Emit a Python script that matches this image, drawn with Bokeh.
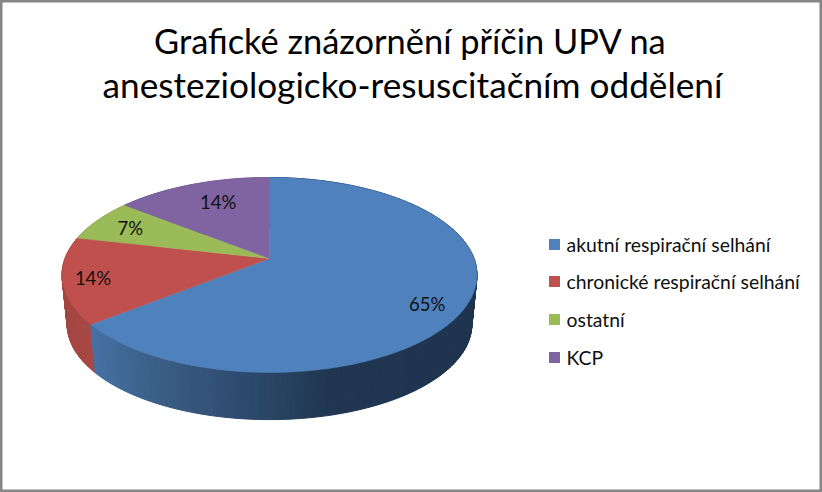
import numpy as np
from bokeh.plotting import figure
from bokeh.models import Range1d
from bokeh.core.properties import value
from bokeh.embed import file_html
from bokeh.resources import INLINE

# ---- data ----
categories = ["akutní respirační selhání", "chronické respirační selhání", "ostatní", "KCP"]
shares = [64.3, 14.3, 7.1, 14.3]
share_labels = ["65%", "14%", "7%", "14%"]
title_lines = ["Grafické znázornění příčin UPV na", "anesteziologicko-resuscitačním oddělení"]

# ---- style / layout ----
top_colors = ["#4F81BD", "#C0504D", "#9BBB59", "#8064A2"]
FONT = "Lato"
W, H = 822, 492
CX, CY_TOP, CY_BOT = 269.0, 258.0, 308.0   # projected centres of upper and lower disc
K = 0.169                                   # perspective
RX, RY = 204.5, 94.7
SHRINK = 0.975                              # lower disc is further from the viewer
LABEL_R = 0.8
LABEL_NUDGE = [(1, 11), (-12, 2), (0, 1), (12, 4)]
LEGEND_Y = [244, 281, 319, 357]


def project(theta, r=1.0, cy=CY_TOP, s=1.0):
    """Clockwise angle from the top of the pie, projected onto the page."""
    u, v = r * np.sin(theta), r * np.cos(theta)
    w = 1 + K * v
    return CX + s * RX * u / w, cy - s * RY * v / w


def mix(c1, c2, t):
    a = [int(c1[i:i + 2], 16) for i in (1, 3, 5)]
    b = [int(c2[i:i + 2], 16) for i in (1, 3, 5)]
    return "#%02x%02x%02x" % tuple(int(round(x + (y - x) * t)) for x, y in zip(a, b))


def side_color(i, x):
    if i == 0:
        stops = [(85, "#4673A6"), (150, "#3B6088"), (250, "#2C486B"), (330, "#203650"), (480, "#1F334F")]
    elif i == 1:
        stops = [(60, "#A34542"), (100, "#AB4845")]
    elif i == 2:
        stops = [(60, "#8AA650"), (100, "#8AA650")]
    else:
        stops = [(60, "#725990"), (100, "#725990")]
    xs = [s[0] for s in stops]
    if x <= xs[0]:
        return stops[0][1]
    for (x0, c0), (x1, c1) in zip(stops, stops[1:]):
        if x <= x1:
            return mix(c0, c1, (x - x0) / (x1 - x0))
    return stops[-1][1]


p = figure(width=W, height=H, output_backend="svg", toolbar_location=None,
           x_range=Range1d(0, W), y_range=Range1d(H, 0),
           min_border=0, background_fill_color="white", border_fill_color="white")
p.xaxis.visible = False
p.yaxis.visible = False
p.grid.visible = False
p.outline_line_color = "#868686"
p.outline_line_width = 4

fr = np.array(shares) / sum(shares)
edges = np.concatenate([[0], np.cumsum(fr)]) * 2 * np.pi

# side wall: many thin quads so that the shading runs along the rim
qx, qy, qc = [], [], []
for i in range(len(shares)):
    n = max(4, int((edges[i + 1] - edges[i]) / np.radians(1.0)))
    t = np.linspace(edges[i], edges[i + 1], n + 1)
    tx, ty = project(t)
    bx, by = project(t, cy=CY_BOT, s=SHRINK)
    for j in range(n):
        qx.append([tx[j], tx[j + 1], bx[j + 1], bx[j]])
        qy.append([ty[j], ty[j + 1], by[j + 1], by[j]])
        qc.append(side_color(i, (tx[j] + tx[j + 1]) / 2))
order = np.argsort([max(q) for q in qy])
p.patches([qx[o] for o in order], [qy[o] for o in order],
          fill_color=[qc[o] for o in order], line_color=[qc[o] for o in order], line_width=1)

# top face
for i in range(len(shares)):
    t = np.linspace(edges[i], edges[i + 1], 240)
    x, y = project(t)
    p.patch(np.r_[CX, x], np.r_[CY_TOP, y], fill_color=top_colors[i], line_color=top_colors[i], line_width=0.5)

# data labels
mid = (edges[:-1] + edges[1:]) / 2
lx, ly = project(mid, r=LABEL_R)
lx = lx + np.array([n[0] for n in LABEL_NUDGE])
ly = ly + np.array([n[1] for n in LABEL_NUDGE])
p.text(lx, ly, text=share_labels, text_font=value(FONT), text_font_size="18.5px",
       text_color="#101010", text_align="center", text_baseline="middle")

# title
p.text([410, 412], [40, 83], text=title_lines, text_font=value(FONT),
       text_font_size=["34.4px", "35.2px"],
       text_color="#000000", text_align="center", text_baseline="middle")

# legend
p.rect([554] * 4, LEGEND_Y, width=11, height=11, fill_color=top_colors, line_color=None)
p.text([566] * 4, LEGEND_Y, text=categories, text_font=value(FONT), text_font_size="19.4px",
       text_color="#101010", text_align="left", text_baseline="middle")

open("out.html", "w").write(file_html(p, INLINE))
